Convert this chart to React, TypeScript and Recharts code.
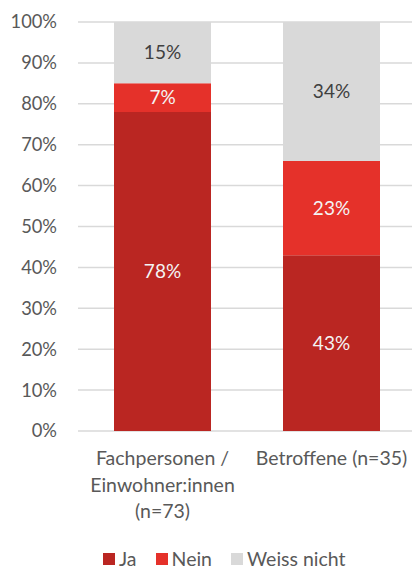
import React from "react";
import { BarChart, Bar, XAxis, YAxis, CartesianGrid, LabelList } from "recharts";

const categories = ["Fachpersonen / Einwohner:innen (n=73)", "Betroffene (n=35)"];
const categoryLines = [["Fachpersonen /", "Einwohner:innen", "(n=73)"], ["Betroffene (n=35)"]];
const seriesNames = ["Ja", "Nein", "Weiss nicht"];
const jaValues = [78, 43];
const neinValues = [7, 23];
const weissNichtValues = [15, 34];
const yTicks = [0, 10, 20, 30, 40, 50, 60, 70, 80, 90, 100];

const colors = ["#BA2622", "#E5312A", "#D9D9D9"];
const labelColors = ["#F4F4F4", "#F4F4F4", "#404040"];
const FONT = "Lato, 'Open Sans', sans-serif";

const data = categories.map((c, i) => ({
  name: c,
  ja: jaValues[i],
  nein: neinValues[i],
  weiss: weissNichtValues[i],
}));
const keys = ["ja", "nein", "weiss"];

const CatTick = (props: any) => {
  const { x, y, index } = props;
  const lines = categoryLines[index] || [];
  return (
    <text x={x} y={y} textAnchor="middle" fill="#595959" fontSize={19.5} fontFamily={FONT}>
      {lines.map((l, i) => (
        <tspan key={i} x={x} dy={i === 0 ? 26 : 26.5}>
          {l}
        </tspan>
      ))}
    </text>
  );
};

export default function App() {
  return (
    <div style={{ position: "absolute", left: 0, top: 0, width: 412, height: 569, overflow: "hidden", background: "#fff" }}>
      <BarChart
        width={416}
        height={569}
        data={data}
        margin={{ top: 22, right: 0, bottom: 78, left: 0 }}
        barSize={97}
      >
        <CartesianGrid horizontal vertical={false} stroke="#D9D9D9" strokeWidth={1.5} />
        <XAxis dataKey="name" axisLine={false} tickLine={false} height={60} tick={<CatTick />} interval={0} />
        <YAxis
          width={78}
          domain={[0, 100]}
          ticks={yTicks}
          axisLine={false}
          tickLine={false}
          tickMargin={15}
          tickFormatter={(v: number) => `${v}%`}
          tick={{ fill: "#595959", fontSize: 18.3, fontFamily: FONT }}
        />
        {keys.map((k, i) => (
          <Bar key={k} dataKey={k} name={seriesNames[i]} stackId="a" fill={colors[i]} isAnimationActive={false}>
            <LabelList
              dataKey={k}
              position="center"
              formatter={(v: any) => `${v}%`}
              fill={labelColors[i]}
              fontSize={19}
              fontFamily={FONT}
            />
          </Bar>
        ))}
      </BarChart>
      <div
        style={{
          position: "absolute",
          left: 103,
          top: 549,
          height: 20,
          display: "flex",
          alignItems: "center",
          fontFamily: FONT,
          fontSize: 19.5,
          lineHeight: "20px",
          color: "#595959",
          whiteSpace: "nowrap",
        }}
      >
        {seriesNames.map((n, i) => (
          <div key={n} style={{ display: "flex", alignItems: "center", marginRight: 19 }}>
            <span style={{ display: "inline-block", width: 12, height: 12, background: colors[i], marginRight: 4 }} />
            <span>{n}</span>
          </div>
        ))}
      </div>
    </div>
  );
}
